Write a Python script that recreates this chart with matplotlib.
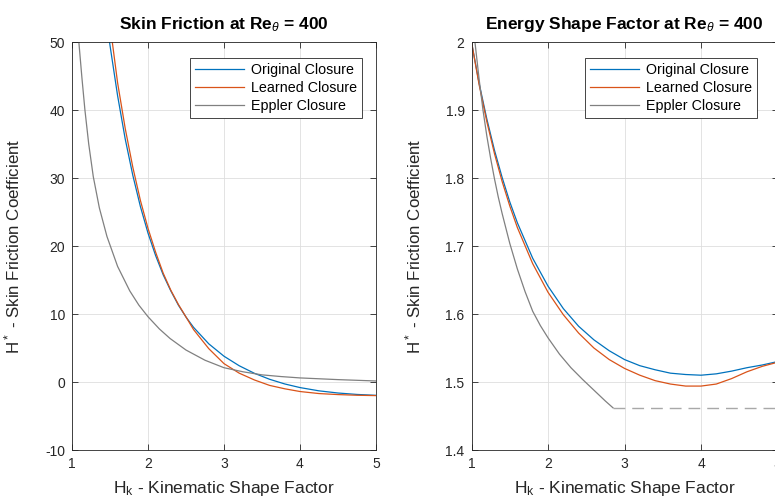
import matplotlib
matplotlib.use("Agg")
import matplotlib.pyplot as plt
from matplotlib.ticker import FuncFormatter

plt.rcParams['font.family'] = ['Liberation Sans', 'DejaVu Sans']
plt.rcParams['mathtext.fontset'] = 'custom'
plt.rcParams['mathtext.rm'] = 'Liberation Sans'
plt.rcParams['mathtext.it'] = 'Liberation Sans:italic'
plt.rcParams['mathtext.bf'] = 'Liberation Sans:bold'

# ---------------- Left: skin friction ----------------
cf_orig_hk = [1.45, 1.5, 1.6, 1.7, 1.8, 1.9, 2.0, 2.1, 2.2, 2.3, 2.4, 2.5, 2.6, 2.8, 3.0,
              3.2, 3.4, 3.6, 3.8, 4.0, 4.25, 4.5, 4.75, 5.0]
cf_orig = [53.7, 49.5, 42.1, 35.75, 30.4, 25.8, 21.9, 18.6, 15.76, 13.4, 11.3, 9.55, 8.03,
           5.61, 3.79, 2.39, 1.28, 0.40, -0.29, -0.82, -1.30, -1.62, -1.83, -1.96]

cf_learn_hk = [1.48, 1.53, 1.6, 1.7, 1.8, 1.9, 2.0, 2.1, 2.2, 2.3, 2.4, 2.46, 2.6, 2.8, 3.0,
               3.2, 3.4, 3.6, 3.8, 4.0, 4.25, 4.5, 4.75, 5.0]
cf_learn = [53.0, 50.0, 44.0, 37.3, 31.6, 26.7, 22.6, 19.1, 16.0, 13.5, 11.4, 10.3, 7.7, 4.9,
            2.7, 1.3, 0.3, -0.5, -1.0, -1.4, -1.7, -1.85, -1.95, -2.0]

cf_eppler_hk = [1.05, 1.09, 1.13, 1.17, 1.22, 1.28, 1.36, 1.46, 1.6, 1.76, 1.88, 2.0, 2.15,
                2.29, 2.5, 2.75, 3.0, 3.25, 3.5, 3.75, 4.0, 4.5, 5.0]
cf_eppler = [56.0, 50.0, 44.8, 40.0, 35.0, 30.2, 25.6, 21.4, 17.0, 13.4, 11.3, 9.6, 7.8,
             6.4, 4.7, 3.2, 2.1, 1.5, 1.05, 0.8, 0.6, 0.35, 0.15]

# ---------------- Right: energy shape factor ----------------
hs_orig_hk = [1.0, 1.1, 1.2, 1.3, 1.4, 1.5, 1.6, 1.8, 2.0, 2.2, 2.4, 2.6, 2.8, 3.0, 3.2,
              3.4, 3.6, 3.8, 4.0, 4.2, 4.4, 4.6, 4.8, 5.0]
hs_orig = [2.0, 1.939, 1.887, 1.841, 1.801, 1.765, 1.734, 1.682, 1.641, 1.608, 1.582, 1.562,
           1.546, 1.533, 1.524, 1.518, 1.513, 1.511, 1.510, 1.512, 1.516, 1.521, 1.525, 1.530]

hs_learn_hk = hs_orig_hk
hs_learn = [2.0, 1.937, 1.883, 1.836, 1.795, 1.759, 1.727, 1.674, 1.632, 1.599, 1.572, 1.550,
            1.533, 1.520, 1.510, 1.502, 1.497, 1.494, 1.494, 1.497, 1.505, 1.515, 1.523, 1.529]

hs_eppler_hk = [1.045, 1.1, 1.15, 1.2, 1.25, 1.3, 1.35, 1.4, 1.5, 1.6, 1.7, 1.8, 1.9, 2.0,
                2.15, 2.3, 2.45, 2.6, 2.75, 2.85]
hs_eppler = [2.0, 1.945, 1.900, 1.862, 1.829, 1.799, 1.772, 1.748, 1.704, 1.666, 1.633, 1.604,
             1.583, 1.565, 1.541, 1.521, 1.504, 1.488, 1.472, 1.462]
hs_floor_hk = [2.85, 5.0]
hs_floor = [1.462, 1.462]

labels = ["Original Closure", "Learned Closure", "Eppler Closure"]
c_blue = "#0072BD"
c_orange = "#D95319"
c_gray = "#808080"
c_axis = "#262626"
LW = 0.9

fig = plt.figure(figsize=(7.75, 5.04), dpi=100)
ax1 = fig.add_axes([72/775, 54/504, 304/775, 408/504])
ax2 = fig.add_axes([471.5/775, 54/504, 306/775, 408/504])

fmt = FuncFormatter(lambda v, p: "%g" % v)

def style(ax):
    ax.grid(True, color="#dedede", linewidth=0.6)
    ax.set_axisbelow(True)
    for s in ax.spines.values():
        s.set_color(c_axis)
        s.set_linewidth(0.6)
    ax.tick_params(direction='in', top=True, right=True, length=4, width=0.6,
                   colors=c_axis, labelsize=10, pad=5)
    ax.yaxis.set_major_formatter(fmt)
    ax.set_xlabel(r"H$_\mathrm{k}$ - Kinematic Shape Factor", fontsize=12.5, color=c_axis, labelpad=6)
    ax.set_ylabel(r"H$^*$ - Skin Friction Coefficient", fontsize=12.2, color=c_axis, labelpad=16)

ax1.plot(cf_orig_hk, cf_orig, color=c_blue, lw=LW, label=labels[0])
ax1.plot(cf_learn_hk, cf_learn, color=c_orange, lw=LW, label=labels[1])
ax1.plot(cf_eppler_hk, cf_eppler, color=c_gray, lw=LW, label=labels[2])
ax1.set_xlim(1, 5)
ax1.set_ylim(-10, 50)
ax1.set_xticks([1, 2, 3, 4, 5])
ax1.set_yticks([-10, 0, 10, 20, 30, 40, 50])
style(ax1)
ax1.set_title(r"Skin Friction at Re$_\theta$ = 400", fontsize=12.5, fontweight='bold', color='black', pad=9)

ax2.plot(hs_orig_hk, hs_orig, color=c_blue, lw=LW, label=labels[0])
ax2.plot(hs_learn_hk, hs_learn, color=c_orange, lw=LW, label=labels[1])
ax2.plot(hs_eppler_hk, hs_eppler, color=c_gray, lw=LW, label=labels[2])
ax2.plot(hs_floor_hk, hs_floor, color="#a8a8a8", lw=1.0, dashes=(8.5, 5))
ax2.set_xlim(1, 5)
ax2.set_ylim(1.4, 2.0)
ax2.set_xticks([1, 2, 3, 4, 5])
ax2.set_yticks([1.4, 1.5, 1.6, 1.7, 1.8, 1.9, 2.0])
style(ax2)
ax2.set_title(r"Energy Shape Factor at Re$_\theta$ = 400", fontsize=12.5, fontweight='bold', color='black', pad=9)

for ax, bx in ((ax1, (362-72)/304), (ax2, (757-471.5)/306)):
    leg = ax.legend(loc='upper right', bbox_to_anchor=(bx, (450-58)/408), fontsize=10.3,
                    handlelength=3.4, fancybox=False, framealpha=1, edgecolor=c_axis,
                    borderpad=0.35, labelspacing=0.28, handletextpad=0.5, borderaxespad=0)
    leg.get_frame().set_linewidth(0.6)

fig.savefig("out.png", dpi=100)
